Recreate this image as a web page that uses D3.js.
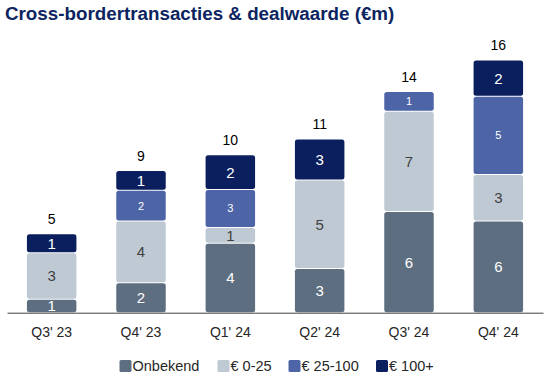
<!DOCTYPE html>
<html>
<head>
<meta charset="utf-8">
<script src="https://cdn.jsdelivr.net/npm/d3@7"></script>
<style>
    body { margin: 0; background: #fff; }
    svg { display: block; font-family: "Liberation Sans", Arial, sans-serif; }
</style>
</head>
<body>
<div id="chart"></div>
<script>
// Quarters on the x axis
const quarters = ["Q3' 23", "Q4' 23", "Q1' 24", "Q2' 24", "Q3' 24", "Q4' 24"];

// Segment heights as drawn in the picture (bottom to top)
const onbekend = [0.85, 1.9, 4.4, 2.8, 6.4, 5.8];
const small = [2.95, 3.9, 1.0, 5.6, 6.35, 2.95];
const mid = [0, 1.95, 2.4, 0, 1.25, 4.95];
const large = [1.2, 1.25, 2.2, 2.6, 0, 2.3];

// Numbers printed inside the segments
const onbekendLabels = [1, 2, 4, 3, 6, 6];
const smallLabels = [3, 4, 1, 5, 7, 3];
const midLabels = [null, 2, 3, null, 1, 5];
const largeLabels = [1, 1, 2, 3, null, 2];

// Totals above the bars
const totals = [5, 9, 10, 11, 14, 16];

const seriesNames = ['Onbekend', '€ 0-25', '€ 25-100', '€ 100+'];
const seriesColors = ['#5d6e80', '#bfc9d3', '#4d65a7', '#0b1f5e'];
const labelColors = ['#ffffff', '#404040', '#ffffff', '#ffffff'];
const labelSizes = [15, 15, 11, 15];

const width = 550;
const height = 376;

const svg = d3.select('#chart')
    .append('svg')
    .attr('width', width)
    .attr('height', height);

svg.append('text')
    .attr('x', 5)
    .attr('y', 20)
    .attr('fill', '#0c2461')
    .attr('font-size', 18.8)
    .attr('font-weight', 'bold')
    .text('Cross-bordertransacties & dealwaarde (€m)');

const x = d3.scaleBand()
    .domain(quarters)
    .range([7, 543])
    .paddingInner(0.446)
    .paddingOuter(0.223);

const y = d3.scaleLinear()
    .domain([0, 16])
    .range([312.7, 60]);

const rows = quarters.map((q, i) => ({
    quarter: q,
    0: onbekend[i], 1: small[i], 2: mid[i], 3: large[i],
    labels: [onbekendLabels[i], smallLabels[i], midLabels[i], largeLabels[i]]
}));

const stack = d3.stack().keys([0, 1, 2, 3]);
const layers = stack(rows);

// Draw each series in turn so higher segments cover spill-over of lower labels
layers.forEach((layer, si) => {
    const g = svg.append('g');
    layer.forEach(d => {
        const h = d[1] - d[0];
        if (h <= 0) return;
        const top = y(d[1]);
        const bottom = y(d[0]);
        g.append('rect')
            .attr('x', x(d.data.quarter))
            .attr('y', top + 0.5)
            .attr('width', x.bandwidth())
            .attr('height', Math.max(0, bottom - top - 1))
            .attr('rx', 2.5)
            .attr('fill', seriesColors[si]);
        const lab = d.data.labels[si];
        if (lab != null) {
            g.append('text')
                .attr('x', x(d.data.quarter) + x.bandwidth() / 2)
                .attr('y', (top + bottom) / 2)
                .attr('dy', '0.36em')
                .attr('text-anchor', 'middle')
                .attr('fill', labelColors[si])
                .attr('font-size', labelSizes[si])
                .text(lab);
        }
    });
});

// Totals
svg.append('g')
    .selectAll('text')
    .data(rows)
    .join('text')
    .attr('x', d => x(d.quarter) + x.bandwidth() / 2)
    .attr('y', (d, i) => y(totals[i]) - 10)
    .attr('text-anchor', 'middle')
    .attr('font-size', 14)
    .attr('fill', '#000')
    .text((d, i) => totals[i]);

// X axis
const xAxis = svg.append('g')
    .attr('transform', `translate(0,${y(0)})`)
    .call(d3.axisBottom(x).tickSize(0).tickPadding(14));
xAxis.select('.domain')
    .attr('stroke', '#404040')
    .attr('stroke-width', 1);
xAxis.selectAll('text')
    .attr('font-size', 14)
    .attr('font-family', '"Liberation Sans", Arial, sans-serif')
    .attr('fill', '#262626');

// Legend
const legendX = [119.5, 217.5, 288.5, 376];
const legend = svg.append('g');
seriesNames.forEach((name, i) => {
    legend.append('rect')
        .attr('x', legendX[i])
        .attr('y', 360)
        .attr('width', 12)
        .attr('height', 12)
        .attr('rx', 1.5)
        .attr('fill', seriesColors[i]);
    legend.append('text')
        .attr('x', legendX[i] + 13)
        .attr('y', 371)
        .attr('font-size', 14.5)
        .attr('fill', '#262626')
        .text(name);
});
</script>
</body>
</html>
